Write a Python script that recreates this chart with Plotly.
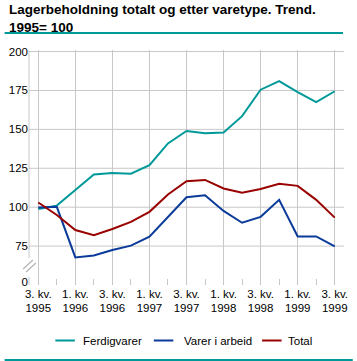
import plotly.graph_objects as go

# ---------------- data ----------------
quarters = ["3. kv. 1995", "4. kv. 1995", "1. kv. 1996", "2. kv. 1996", "3. kv. 1996",
            "4. kv. 1996", "1. kv. 1997", "2. kv. 1997", "3. kv. 1997", "4. kv. 1997",
            "1. kv. 1998", "2. kv. 1998", "3. kv. 1998", "4. kv. 1998", "1. kv. 1999",
            "2. kv. 1999", "3. kv. 1999"]
ferdigvarer = [98.9, 101.0, 111.0, 121.0, 122.0, 121.5, 127.0, 141.0, 149.0, 147.5,
               148.0, 158.5, 175.5, 181.0, 174.0, 167.5, 174.5]
varer_i_arbeid = [99.8, 100.2, 67.7, 69.0, 72.5, 75.3, 81.0, 93.6, 106.4, 107.7,
                  97.6, 90.0, 93.8, 104.7, 81.2, 81.2, 74.8]
total = [103.0, 95.0, 85.3, 82.0, 86.0, 90.6, 97.0, 108.2, 116.7, 117.5,
         112.0, 109.3, 111.7, 115.0, 113.7, 104.7, 93.3]
series_names = ["Ferdigvarer", "Varer i arbeid", "Total"]
y_tick_values = [75, 100, 125, 150, 175, 200]
y_zero_label = "0"

# ---------------- style / layout constants ----------------
W, H = 357, 361
L, R, T, B = 25, 9, 50, 76
PLOT_W = W - L - R
PLOT_H = H - T - B
Y_RANGE = [50, 201]
Y_ZERO_POS = 52.1          # where the "0" label sits below the axis break
TEAL = "#009999"
BLUE = "#0a3a9a"
RED = "#990000"
GRID = "#c8c8c8"
FONT = "Liberation Sans, Arial, sans-serif"


def px2x(px):
    return (px - L) / PLOT_W


def px2y(py):
    return (H - B - py) / PLOT_H


x = list(range(len(quarters)))
major = [i for i in x if i % 2 == 0]
minor = [i for i in x if i % 2 == 1]
major_text = ["<br>".join(quarters[i].rsplit(" ", 1)) for i in major]

fig = go.Figure()
for name, vals, col in zip(series_names, [ferdigvarer, varer_i_arbeid, total], [TEAL, BLUE, RED]):
    fig.add_trace(go.Scatter(x=x, y=vals, mode="lines", name=name,
                             line=dict(color=col, width=2), showlegend=False))

shapes = []
# horizontal grid lines (none at the broken "0" level)
for v in y_tick_values:
    shapes.append(dict(type="line", xref="paper", yref="y", x0=0, x1=1, y0=v, y1=v,
                       line=dict(color=GRID, width=1), layer="below"))
# left axis line with a gap for the break
shapes.append(dict(type="line", xref="paper", yref="paper", x0=0, x1=0, y0=1, y1=px2y(258),
                   line=dict(color=GRID, width=1), layer="below"))
shapes.append(dict(type="line", xref="paper", yref="paper", x0=0, x1=0, y0=px2y(277), y1=0,
                   line=dict(color=GRID, width=1), layer="below"))
# break marks
for dx, dy in [(0, 0), (3, 3)]:
    shapes.append(dict(type="line", xref="paper", yref="paper",
                       x0=px2x(19 + dx), y0=px2y(269 + dy), x1=px2x(29 + dx), y1=px2y(260 + dy),
                       line=dict(color="#b4b4b4", width=1.2)))
# rules under title and at the bottom
shapes.append(dict(type="line", xref="paper", yref="paper", x0=px2x(0), x1=px2x(347),
                   y0=px2y(33), y1=px2y(33), line=dict(color=TEAL, width=2)))
shapes.append(dict(type="line", xref="paper", yref="paper", x0=px2x(0), x1=px2x(357),
                   y0=px2y(360), y1=px2y(360), line=dict(color=TEAL, width=2)))

annotations = [dict(text="Lagerbeholdning totalt og etter varetype. Trend.<br>1995= 100",
                    xref="paper", yref="paper", x=px2x(2), y=px2y(0), xanchor="left", yanchor="top",
                    align="left", showarrow=False,
                    font=dict(family=FONT, size=13.5, color="#000000", weight="bold"))]

# legend (drawn manually to match the compact original layout)
legend_items = [(series_names[0], TEAL, 52, 78), (series_names[1], BLUE, 153, 181.5),
                (series_names[2], RED, 264, 289)]
for name, col, lx, tx in legend_items:
    shapes.append(dict(type="line", xref="paper", yref="paper", x0=px2x(lx), x1=px2x(lx + 20),
                       y0=px2y(340.5), y1=px2y(340.5), line=dict(color=col, width=2)))
    annotations.append(dict(text=name, xref="paper", yref="paper", x=px2x(tx), y=px2y(341),
                            xanchor="left", yanchor="middle", showarrow=False,
                            font=dict(family=FONT, size=11.5, color="#000000")))

fig.update_layout(
    width=W, height=H,
    margin=dict(l=L, r=R, t=T, b=B, pad=0),
    paper_bgcolor="white", plot_bgcolor="white",
    font=dict(family=FONT, size=11.5, color="#000000"),
    shapes=shapes, annotations=annotations,
    xaxis=dict(range=[-0.5, 16.5], tickmode="array", tickvals=major, ticktext=major_text,
               showgrid=True, gridcolor=GRID, gridwidth=1, zeroline=False, showline=False,
               ticks="", tickfont=dict(size=11.5),
               minor=dict(tickmode="array", tickvals=minor, ticks="inside", ticklen=6,
                          tickcolor=GRID, tickwidth=1, showgrid=False)),
    yaxis=dict(range=Y_RANGE, tickmode="array", tickvals=[Y_ZERO_POS] + y_tick_values,
               ticktext=[y_zero_label] + [str(v) for v in y_tick_values],
               showgrid=False, zeroline=False, showline=False, ticks="",
               tickfont=dict(size=11.5)),
)

fig.write_html("out.html", post_script="document.body.style.margin='0';",
               config={"displayModeBar": False})
